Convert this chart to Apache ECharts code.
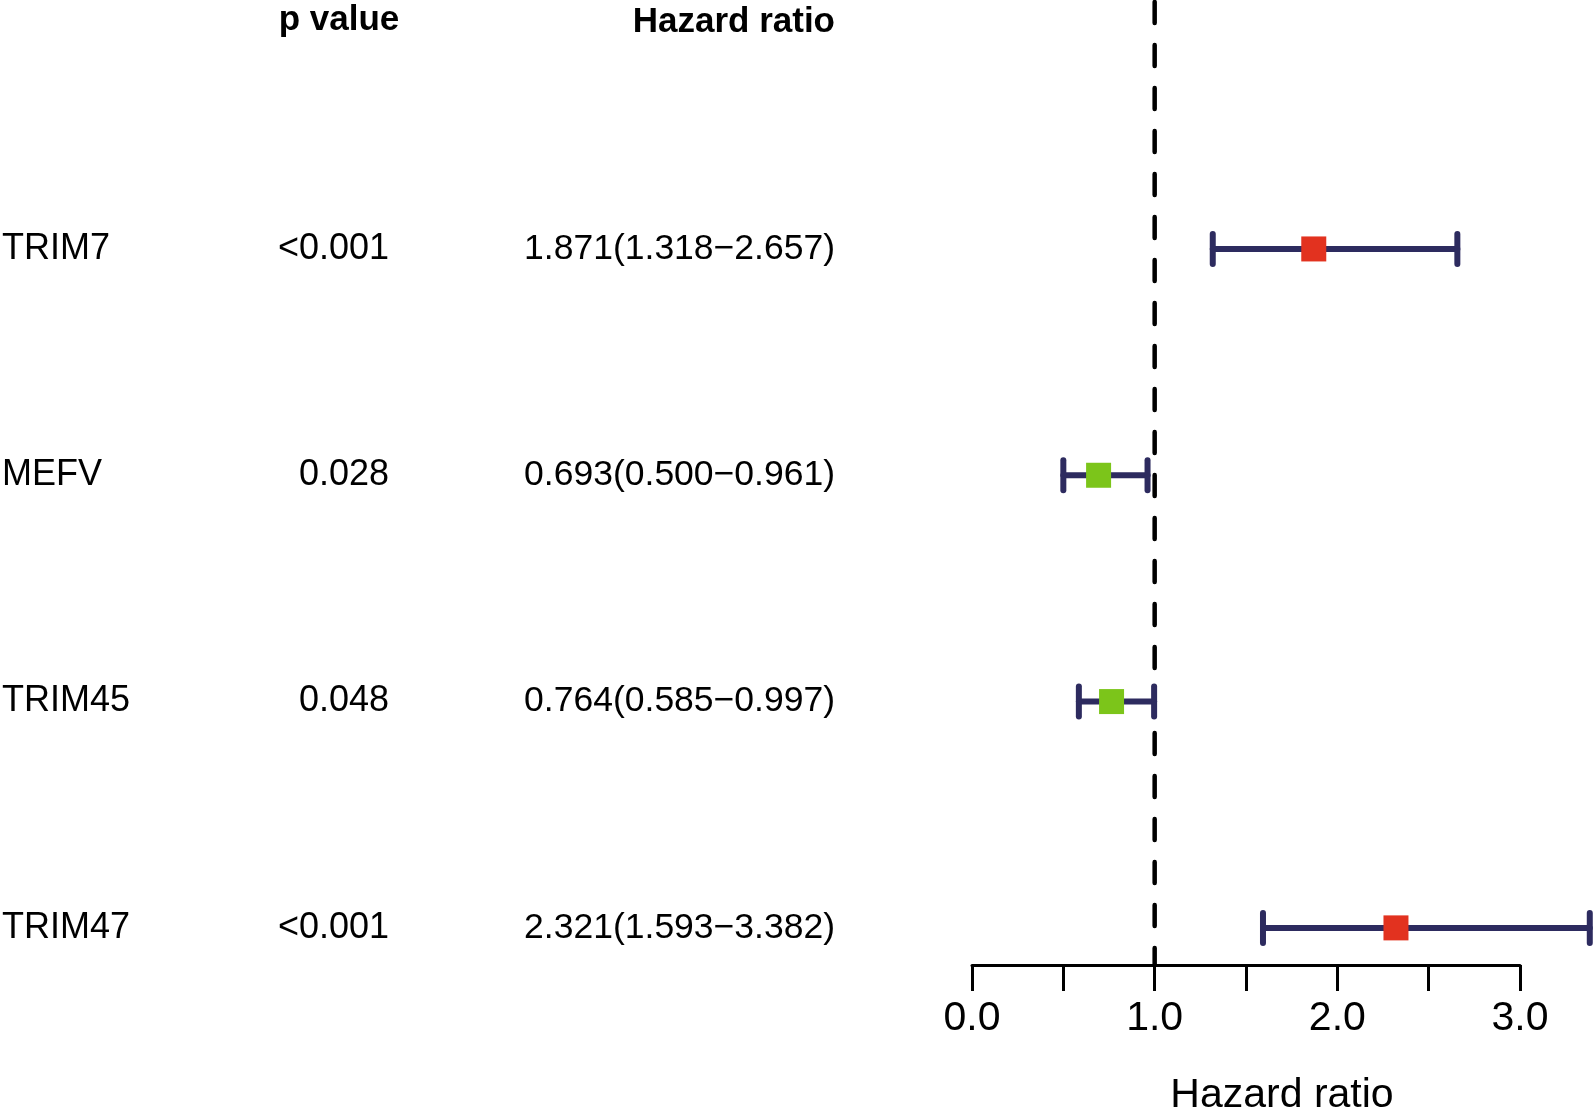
<!DOCTYPE html>
<html>
<head>
<meta charset="utf-8">
<script src="https://cdn.jsdelivr.net/npm/echarts@6/dist/echarts.min.js"></script>
<style>
html,body{margin:0;padding:0;background:#fff;overflow:hidden;}
#chart{width:1593px;height:1114px;}
</style>
</head>
<body>
<div id="chart"></div>
<script>
// ---- data ----
const genes = ['TRIM7', 'MEFV', 'TRIM45', 'TRIM47'];
const pValues = ['<0.001', '0.028', '0.048', '<0.001'];
const hr = [1.871, 0.693, 0.764, 2.321];
const hrLow = [1.318, 0.500, 0.585, 1.593];
const hrHigh = [2.657, 0.961, 0.997, 3.382];
const headerLabels = ['p value', 'Hazard ratio'];
const axisTitle = 'Hazard ratio';
const refLine = 1;

// ---- layout ----
const FONT = "'Liberation Sans', Arial, Helvetica, sans-serif";
const Y_MIN = -1.1, Y_MAX = 3.164;
const COL_GENE = 2, COL_P = 389, COL_HR = 835, COL_PHEAD = 339;

const chart = echarts.init(document.getElementById('chart'));

const hrText = hr.map((v, i) => v.toFixed(3) + '(' + hrLow[i].toFixed(3) + '\u2212' + hrHigh[i].toFixed(3) + ')');

const barData = genes.map((g, i) => [i, hrLow[i], hr[i], hrHigh[i]]);
const tableData = genes.map((g, i) => [i]);

const option = {
  backgroundColor: '#fff',
  animation: false,
  grid: [
    { left: 972, right: 73, top: 0, bottom: 149, containLabel: false, outerBoundsMode: 'none' },
    { left: 0, right: 621, top: 0, bottom: 149, containLabel: false, outerBoundsMode: 'none' }
  ],
  xAxis: [
    {
      gridIndex: 0, type: 'value', min: 0, max: 3, interval: 0.5,
      position: 'bottom',
      axisLine: { show: true, onZero: false, lineStyle: { color: '#000', width: 3 } },
      axisTick: { show: true, length: 26, lineStyle: { color: '#000', width: 3 } },
      splitLine: { show: false },
      axisLabel: {
        show: true, margin: 33, color: '#000', fontFamily: FONT, fontSize: 41,
        formatter: v => (Math.abs(v - Math.round(v)) < 1e-9 ? v.toFixed(1) : '')
      },
      name: axisTitle, nameLocation: 'middle', nameGap: 110,
      nameTextStyle: { color: '#000', fontFamily: FONT, fontSize: 41, padding: [0, 0, 0, 72] }
    },
    { gridIndex: 1, type: 'value', min: 0, max: 972, show: false }
  ],
  yAxis: [
    { gridIndex: 0, type: 'value', min: Y_MIN, max: Y_MAX, inverse: true, show: false },
    { gridIndex: 1, type: 'value', min: Y_MIN, max: Y_MAX, inverse: true, show: false }
  ],
  series: [
    {
      type: 'custom', xAxisIndex: 0, yAxisIndex: 0, clip: false, z: 2,
      data: [[refLine]],
      renderItem: (params, api) => {
        const top = api.coord([api.value(0), Y_MIN]);
        const bot = api.coord([api.value(0), Y_MAX]);
        return {
          type: 'line',
          shape: { x1: top[0], y1: top[1] + 2, x2: bot[0], y2: bot[1] },
          style: { stroke: '#000', lineWidth: 4.5, lineDash: [21, 22], lineCap: 'round' }
        };
      }
    },
    {
      type: 'custom', xAxisIndex: 0, yAxisIndex: 0, clip: false, z: 3,
      data: barData,
      encode: { x: [1, 2, 3], y: 0 },
      renderItem: (params, api) => {
        const i = api.value(0);
        const lo = api.coord([api.value(1), i]);
        const mid = api.coord([api.value(2), i]);
        const hi = api.coord([api.value(3), i]);
        const col = api.value(2) > 1 ? '#e2321f' : '#7cc51a';
        const barStyle = { stroke: '#2d2b5f', lineWidth: 6, lineCap: 'round' };
        const cap = 15, sq = 25;
        return {
          type: 'group',
          children: [
            { type: 'line', shape: { x1: lo[0], y1: lo[1], x2: hi[0], y2: hi[1] }, style: barStyle },
            { type: 'line', shape: { x1: lo[0], y1: lo[1] - cap, x2: lo[0], y2: lo[1] + cap }, style: barStyle },
            { type: 'line', shape: { x1: hi[0], y1: hi[1] - cap, x2: hi[0], y2: hi[1] + cap }, style: barStyle },
            { type: 'rect', shape: { x: mid[0] - sq / 2, y: mid[1] - sq / 2, width: sq, height: sq }, style: { fill: col } }
          ]
        };
      }
    },
    {
      type: 'custom', xAxisIndex: 1, yAxisIndex: 1, clip: false, z: 3,
      data: tableData,
      renderItem: (params, api) => {
        const i = api.value(0);
        const pg = api.coord([COL_GENE, i]);
        const pp = api.coord([COL_P, i]);
        const ph = api.coord([COL_HR, i]);
        const ts = { fill: '#000', fontFamily: FONT, fontSize: 36, verticalAlign: 'middle' };
        const children = [
          { type: 'text', x: pg[0], y: pg[1], style: Object.assign({}, ts, { text: genes[i], align: 'left' }) },
          { type: 'text', x: pp[0], y: pp[1], style: Object.assign({}, ts, { text: pValues[i], align: 'right' }) },
          { type: 'text', x: ph[0], y: ph[1], style: Object.assign({}, ts, { text: hrText[i], align: 'right', fontSize: 35.5 }) }
        ];
        if (i === 0) {
          const hp = api.coord([COL_PHEAD, -1]);
          const hh = api.coord([COL_HR, -1]);
          const hs = Object.assign({}, ts, { fontWeight: 'bold', fontSize: 35 });
          children.push({ type: 'text', x: hp[0], y: hp[1] - 2, style: Object.assign({}, hs, { text: headerLabels[0], align: 'center' }) });
          children.push({ type: 'text', x: hh[0], y: hh[1], style: Object.assign({}, hs, { text: headerLabels[1], align: 'right' }) });
        }
        return { type: 'group', children };
      }
    }
  ]
};
chart.setOption(option);
</script>
</body>
</html>
